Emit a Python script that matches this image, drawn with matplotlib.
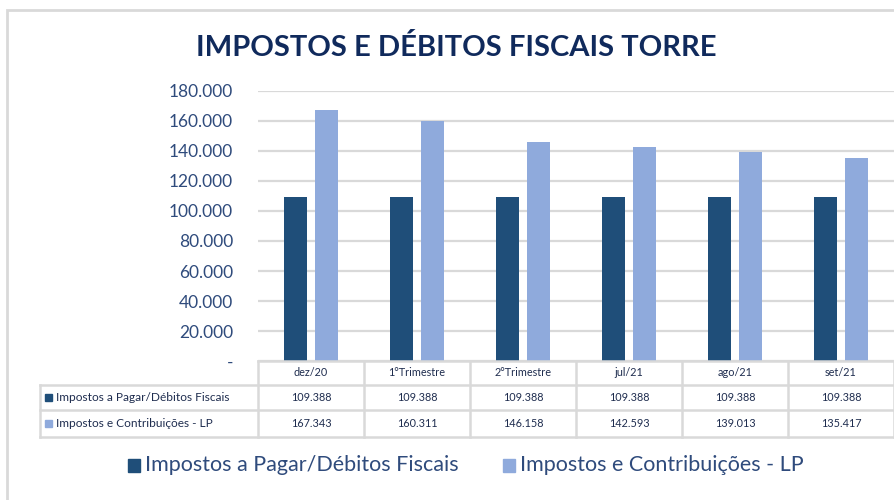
import matplotlib
matplotlib.use("Agg")
import matplotlib.pyplot as plt
from matplotlib.lines import Line2D
from matplotlib.patches import Rectangle
from matplotlib.transforms import blended_transform_factory

categories = ["dez/20", "1°Trimestre", "2°Trimestre", "jul/21", "ago/21", "set/21"]
series_names = ["Impostos a Pagar/Débitos Fiscais", "Impostos e Contribuições - LP"]
impostos_pagar = [109388, 109388, 109388, 109388, 109388, 109388]
impostos_lp = [167343, 160311, 146158, 142593, 139013, 135417]
y_ticks = [0, 20000, 40000, 60000, 80000, 100000, 120000, 140000, 160000, 180000]

dark = "#1F4E79"
light = "#8FAADC"
grid_col = "#D9D9D9"
text_col = "#2F4B7C"
plt.rcParams["font.family"] = ["Lato", "DejaVu Sans"]

W, H = 894, 500
fig = plt.figure(figsize=(W / 100, H / 100), dpi=100)


def fx(px):
    return px / W


def fy(py):
    return 1 - py / H


# outer chart border
fig.add_artist(Rectangle((fx(7), fy(520)), fx(950), 510 / H, transform=fig.transFigure,
                         fill=False, edgecolor=grid_col, linewidth=2))

ax = fig.add_axes([fx(258), fy(361), fx(894) - fx(258), fy(91) - fy(361)])
x = list(range(len(categories)))
bw = 0.22
off = 0.145
ax.bar([i - off for i in x], impostos_pagar, bw, color=dark, zorder=3)
ax.bar([i + off for i in x], impostos_lp, bw, color=light, zorder=3)
ax.set_xlim(-0.5, len(categories) - 0.5)
ax.set_ylim(0, 180000)
ax.set_yticks(y_ticks)
ax.set_yticklabels(["-"] + [f"{v:,}".replace(",", ".") for v in y_ticks[1:]])
ax.tick_params(axis="y", length=0, pad=18, labelsize=12.5, labelcolor=text_col)
ax.set_xticks([])
ax.grid(axis="y", color=grid_col, linewidth=1.6, zorder=0)
for s in ax.spines.values():
    s.set_visible(False)

fig.text(fx(456), fy(47), "IMPOSTOS E DÉBITOS FISCAIS TORRE", ha="center", va="center",
         fontsize=21, fontweight="bold", color="#102A5C")

# data table under the plot
tr = blended_transform_factory(ax.transData, fig.transFigure)
rows = [361, 385, 410, 437]
lw = 1.8
for i in range(len(categories) + 1):
    fig.add_artist(Line2D([i - 0.5, i - 0.5], [fy(rows[0]), fy(rows[-1])], transform=tr,
                          color=grid_col, linewidth=lw))
fig.add_artist(Line2D([fx(40), fx(40)], [fy(rows[1]), fy(rows[-1])], transform=fig.transFigure,
                      color=grid_col, linewidth=lw))
fig.add_artist(Line2D([-0.5, len(categories) - 0.5], [fy(rows[0]), fy(rows[0])], transform=tr,
                      color=grid_col, linewidth=lw))
for r in rows[1:]:
    fig.add_artist(Line2D([fx(40), 1], [fy(r), fy(r)], transform=fig.transFigure,
                          color=grid_col, linewidth=lw))

tsize = 7.8
tcol = "#1F2D4F"
for i, c in enumerate(categories):
    fig.text(i, fy((rows[0] + rows[1]) / 2), c, transform=tr, ha="center", va="center",
             fontsize=tsize, color=tcol)
    fig.text(i, fy((rows[1] + rows[2]) / 2), f"{impostos_pagar[i]:,}".replace(",", "."),
             transform=tr, ha="center", va="center", fontsize=tsize, color=tcol)
    fig.text(i, fy((rows[2] + rows[3]) / 2), f"{impostos_lp[i]:,}".replace(",", "."),
             transform=tr, ha="center", va="center", fontsize=tsize, color=tcol)

for k, (name, col) in enumerate(zip(series_names, [dark, light])):
    yc = fy((rows[k + 1] + rows[k + 2]) / 2)
    fig.add_artist(Rectangle((fx(45), yc - 3.5 / H), 7 / W, 7 / H, transform=fig.transFigure,
                             color=col))
    fig.text(fx(56), yc, name, ha="left", va="center", fontsize=8.6, color=tcol)

# legend
leg_x = [128, 503]
for name, col, lx in zip(series_names, [dark, light], leg_x):
    fig.add_artist(Rectangle((fx(lx), fy(472)), 12 / W, 13 / H, transform=fig.transFigure,
                             color=col))
    fig.text(fx(lx + 17), fy(465), name, ha="left", va="center", fontsize=15.5, color=text_col)

fig.savefig("out.png", dpi=100)
